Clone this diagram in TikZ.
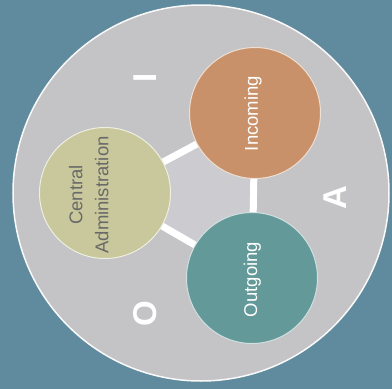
\documentclass[tikz,border=0pt]{standalone}
\usepackage{fontspec}
\setmainfont{Liberation Sans}
\definecolor{bgblue}{RGB}{96,139,158}
\definecolor{disk}{RGB}{196,196,198}
\definecolor{inner}{RGB}{204,204,208}
\definecolor{incol}{RGB}{201,145,105}
\definecolor{cacol}{RGB}{200,200,156}
\definecolor{outcol}{RGB}{99,153,152}
\definecolor{catext}{RGB}{105,105,105}
\tikzset{
  bubble/.style={circle, minimum size=131pt, inner sep=0pt, draw=white!70!#1, line width=1pt, fill=#1},
  link/.style={draw=white, line width=7pt},
  lbl/.style={rotate=90, anchor=base, font=\fontsize{18.5}{26}\selectfont, align=center},
  letter/.style={rotate=90, anchor=base, text=white, font=\fontsize{33}{33}\selectfont\bfseries}
}
\begin{document}
\begin{tikzpicture}[x=1pt,y=-1pt]
\useasboundingbox (0,0) rectangle (392,389);
\fill[bgblue] (0,0) rectangle (392,389);
\node[circle, minimum size=376pt, inner sep=0pt, fill=disk, draw=white!90!disk, line width=1.5pt] (disk) at (201,193) {};
\fill[inner] (105,193) -- (255,113) -- (252,278) -- cycle;
\node[bubble=cacol] (ca) at (105,193) {};
\node[bubble=incol] (inc) at (255,113) {};
\node[bubble=outcol] (out) at (252,278) {};
\draw[link] (ca) -- (inc);
\draw[link] (ca) -- (out);
\draw[link] (inc) -- (out);
\node[lbl, text=white] (tinc) at (258,113.5) {Incoming};
\node[lbl, text=white] (tout) at (257,279.5) {Outgoing};
\node[lbl, text=catext, anchor=south] (tca) at (112,195) {Central\\Administration};
\node[letter] (li) at (157,77.5) {I};
\node[letter] (la) at (346,198) {A};
\node[letter] (lo) at (157,314) {O};
\end{tikzpicture}
\end{document}
